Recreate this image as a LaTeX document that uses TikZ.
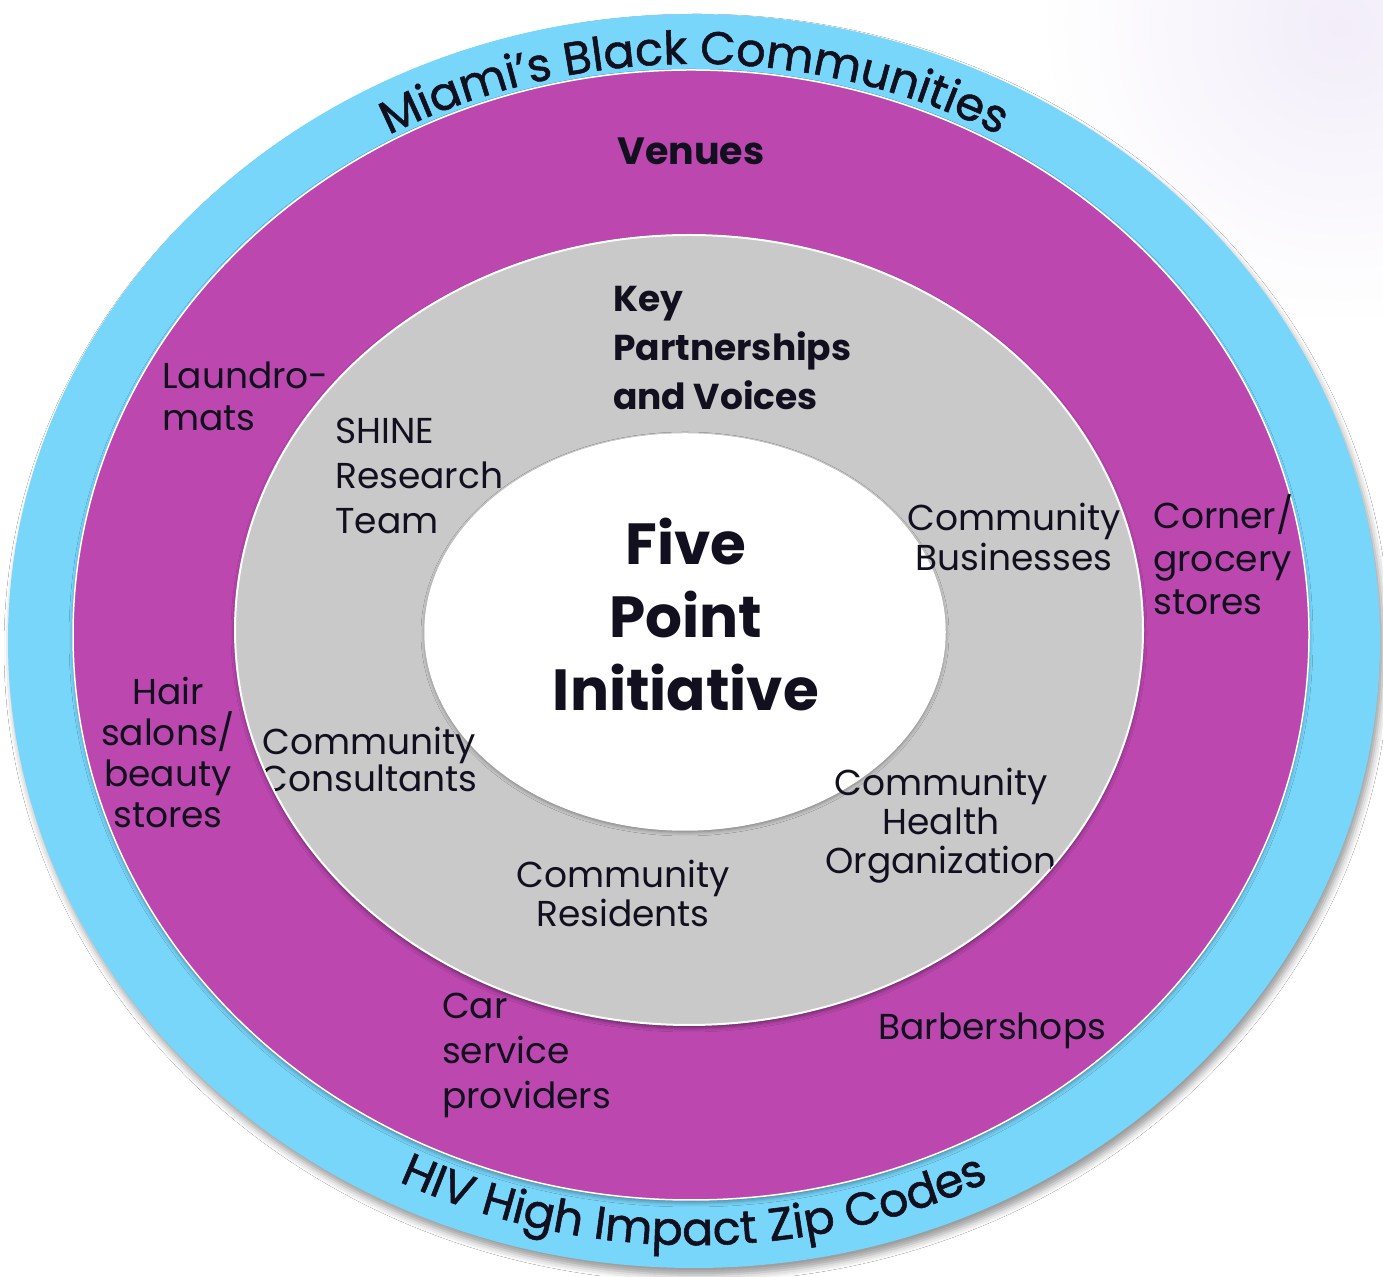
\documentclass[tikz,border=0pt]{standalone}
\usepackage{fontspec}
\setmainfont{Poppins}
\newfontfamily\curvefont[FakeBold=1.2]{Poppins}
\usetikzlibrary{decorations.text,shadows.blur}
\definecolor{ringblue}{RGB}{120,214,250}
\definecolor{ringmag}{RGB}{187,71,175}
\definecolor{ringgrey}{RGB}{201,201,201}
\definecolor{ink}{RGB}{18,16,30}
\definecolor{haze}{RGB}{242,237,249}
\begin{document}
\begin{tikzpicture}[x=1pt,y=1pt,
  lbl/.style={inner sep=0pt, text=ink, font=\fontsize{36}{42}\selectfont},
  boldlbl/.style={inner sep=0pt, text=ink, font=\bfseries\fontsize{36}{49}\selectfont},
  curved/.style={decorate, decoration={text along path, text align={center}, text color=ink}}]
\useasboundingbox (0,0) rectangle (1383,1276);
\fill[white] (0,0) rectangle (1383,1276);
\shade[inner color=haze, outer color=white] (1340,1250) circle [radius=300];
% rings
\fill[ringblue, blur shadow={shadow xshift=3pt, shadow yshift=-7pt, shadow blur radius=7pt, shadow opacity=40}]
  (694,635) ellipse [x radius=686, y radius=627];
\fill[ringmag, draw=white, line width=1.5pt, blur shadow={shadow xshift=0pt, shadow yshift=-3pt, shadow blur radius=4pt, shadow opacity=35}]
  (691,641) ellipse [x radius=618, y radius=565];
\fill[ringgrey, draw=white, line width=2pt, blur shadow={shadow xshift=0pt, shadow yshift=-3pt, shadow blur radius=4pt, shadow opacity=45}]
  (689,646) ellipse [x radius=454, y radius=395];
\fill[white, draw=white, line width=1.5pt, blur shadow={shadow xshift=0pt, shadow yshift=-2pt, shadow blur radius=4pt, shadow opacity=40}]
  (685,644) ellipse [x radius=260, y radius=198];
% curved texts
\path[curved, decoration={text={|\curvefont\fontsize{46}{50}\selectfont|Miami’s Black Communities}}]
  [shift={(694,635)}] (150:634 and 577) arc [start angle=150, end angle=30, x radius=634, y radius=577];
\path[curved, decoration={text={|\curvefont\fontsize{46}{50}\selectfont|HIV High Impact Zip Codes}}]
  [shift={(694,635)}] (203:661 and 604) arc [start angle=203, end angle=337, x radius=661, y radius=604];
% venue labels
\node[boldlbl, anchor=north, font=\bfseries\fontsize{38}{44}\selectfont] (venues) at (691,1138) {Venues};
\node[lbl, anchor=north west, align=left] (laundro) at (162,914) {Laundro-\\mats};
\node[lbl, anchor=north west, align=left, font=\fontsize{36}{43}\selectfont] (corner) at (1153,782) {Corner/\\grocery\\stores};
\node[lbl, anchor=north, align=center, font=\fontsize{36}{41}\selectfont] (hair) at (168,599) {Hair\\salons/\\beauty\\stores};
\node[lbl, anchor=north west, align=left, font=\fontsize{36}{45}\selectfont] (car) at (442,283) {Car\\service\\providers};
\node[lbl, anchor=north west] (barber) at (878,263) {Barbershops};
% partner labels
\begin{scope}
\clip (689,646) ellipse [x radius=453, y radius=394];
\node[boldlbl, anchor=north west, align=left] (key) at (613,990) {Key\\Partnerships\\and Voices};
\node[lbl, anchor=north west, align=left, font=\fontsize{36}{45}\selectfont] (shine) at (335,858) {SHINE\\Research\\Team};
\node[lbl, anchor=north, align=center, font=\fontsize{36}{40}\selectfont] (business) at (1014,773) {Community\\Businesses};
\node[lbl, anchor=north, align=center, font=\fontsize{36}{37}\selectfont] (consult) at (369,549) {Community\\Consultants};
\node[lbl, anchor=north, align=center, font=\fontsize{36}{39}\selectfont] (health) at (941,508) {Community\\Health\\Organization};
\node[lbl, anchor=north, align=center, font=\fontsize{36}{39}\selectfont] (resident) at (623,416) {Community\\Residents};
\end{scope}
% centre
\node[boldlbl, anchor=north, align=center, font=\bfseries\fontsize{58}{73}\selectfont] (five) at (686,758) {Five\\Point\\Initiative};
\end{tikzpicture}
\end{document}
